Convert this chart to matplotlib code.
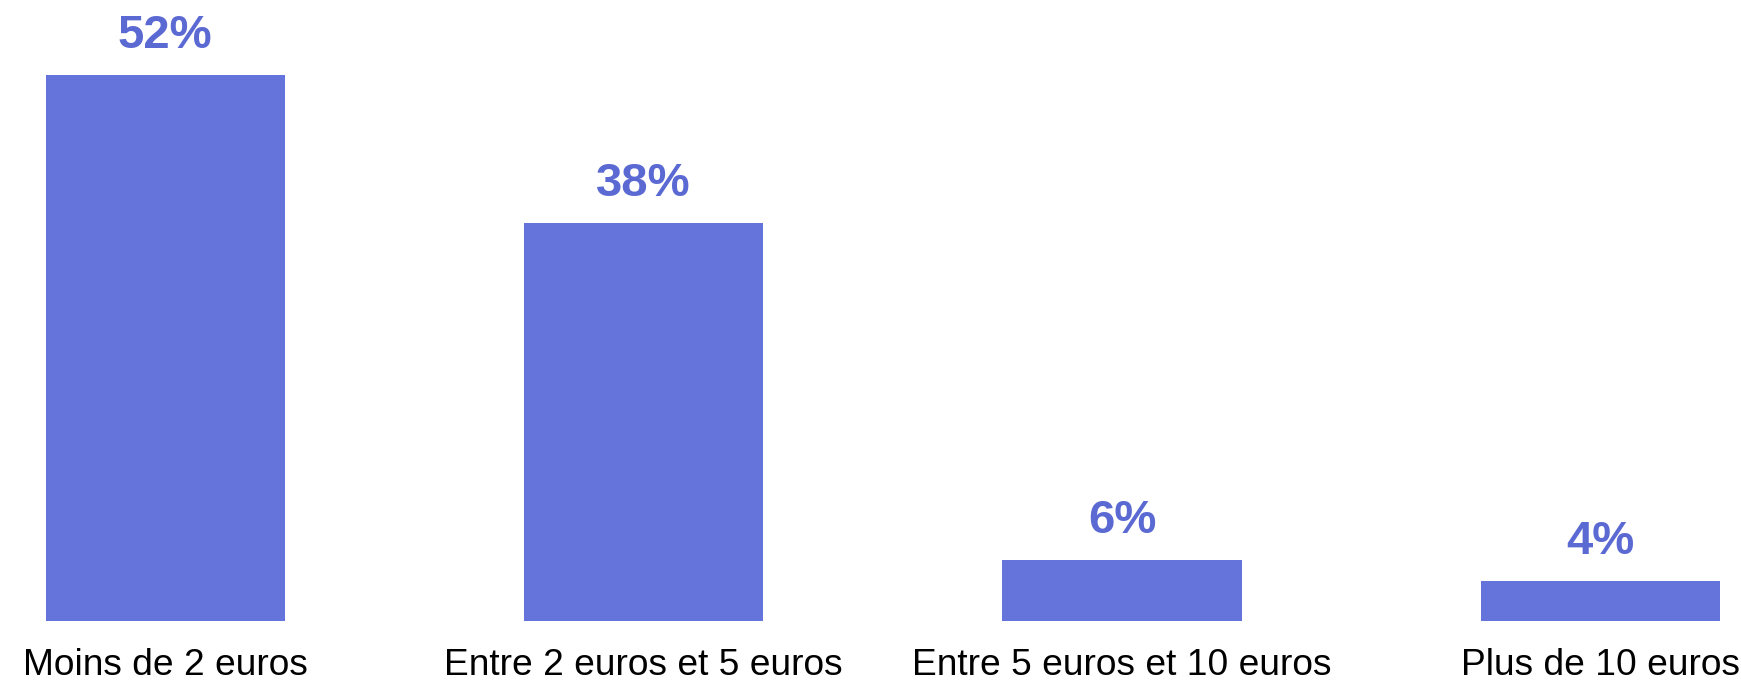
import matplotlib
matplotlib.use("Agg")
import matplotlib.pyplot as plt

categories = ["Moins de 2 euros", "Entre 2 euros et 5 euros", "Entre 5 euros et 10 euros", "Plus de 10 euros"]
values = [52, 38, 6, 4]
labels = ["52%", "38%", "6%", "4%"]

bar_color = "#6574DA"
text_color = "#5B69D3"

W, H = 1741, 682
fig = plt.figure(figsize=(W / 100, H / 100), dpi=100)
left, right, bottom, top = 45.5, 1720, 61.3, 607
ax = fig.add_axes([left / W, bottom / H, (right - left) / W, (top - bottom) / H])

x = list(range(len(categories)))
ax.bar(x, values, width=0.5, color=bar_color)
ax.set_xlim(-0.25, len(categories) - 0.75)
ax.set_ylim(0.24, 52)

for xi, v, lab in zip(x, values, labels):
    ax.annotate(lab, (xi, v), xytext=(0, 12), textcoords="offset points",
                ha="center", va="bottom", fontsize=34, fontweight="bold",
                color=text_color, family="Liberation Sans", annotation_clip=False)

ax.set_xticks(x)
ax.set_xticklabels(categories, fontsize=26.7, family="Liberation Sans", color="black")
ax.tick_params(axis="x", length=0, pad=20)
ax.set_yticks([])
for s in ax.spines.values():
    s.set_visible(False)

fig.savefig("out.png", dpi=100)
